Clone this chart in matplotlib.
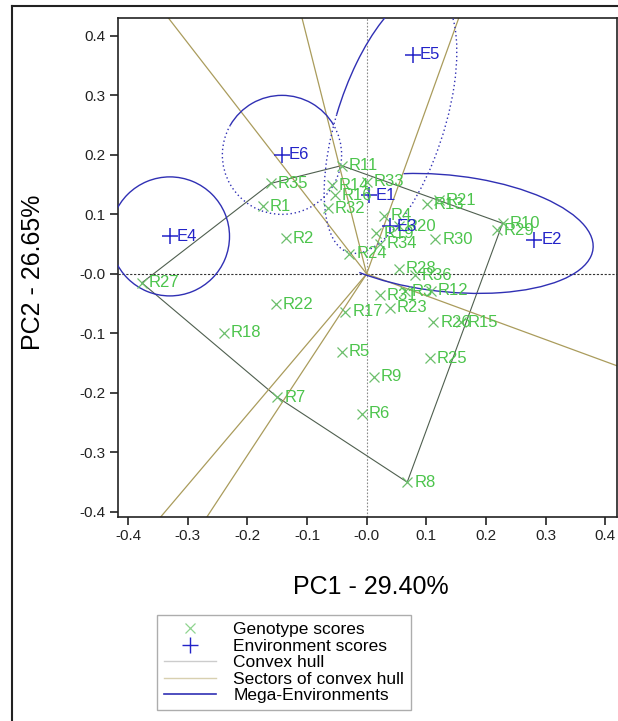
import numpy as np
import matplotlib
matplotlib.use('Agg')
import matplotlib.pyplot as plt
from matplotlib.patches import Arc
from matplotlib.lines import Line2D

plt.rcParams['font.family'] = ['Liberation Sans', 'DejaVu Sans']
plt.rcParams['axes.unicode_minus'] = False

# genotype scores (PC1, PC2)
gen_names = ['R1', 'R2', 'R3', 'R4', 'R5', 'R6', 'R7', 'R8', 'R9', 'R10',
             'R11', 'R12', 'R13', 'R14', 'R15', 'R16', 'R17', 'R18', 'R19', 'R20',
             'R21', 'R22', 'R23', 'R24', 'R25', 'R26', 'R27', 'R28', 'R29', 'R30',
             'R31', 'R32', 'R33', 'R34', 'R35', 'R36']
gen_x = [-0.174, -0.135, 0.064, 0.029, -0.042, -0.008, -0.150, 0.068, 0.012, 0.228,
         -0.042, 0.108, 0.101, -0.058, 0.158, -0.053, -0.036, -0.240, 0.016, 0.054,
         0.121, -0.152, 0.039, -0.029, 0.106, 0.112, -0.377, 0.054, 0.218, 0.115,
         0.022, -0.065, 0.000, 0.022, -0.161, 0.081]
gen_y = [0.114, 0.060, -0.029, 0.098, -0.131, -0.235, -0.207, -0.350, -0.173, 0.085,
         0.182, -0.028, 0.117, 0.149, -0.081, 0.132, -0.064, -0.099, 0.068, 0.080,
         0.124, -0.051, -0.057, 0.034, -0.142, -0.081, -0.015, 0.009, 0.073, 0.058,
         -0.036, 0.110, 0.155, 0.051, 0.152, -0.002]

# environment scores
env_names = ['E1', 'E2', 'E3', 'E4', 'E5', 'E6']
env_x = [0.004, 0.281, 0.039, -0.330, 0.078, -0.142]
env_y = [0.132, 0.057, 0.080, 0.063, 0.368, 0.200]

# vertices of the convex hull (genotypes)
hull_order = ['R27', 'R35', 'R11', 'R10', 'R8', 'R7']

# mega-environment ellipses: centre, width, height, angle, solid arc, dotted arc
me_cx = [-0.330, -0.142, 0.040, 0.135]
me_cy = [0.063, 0.200, 0.255, 0.068]
me_w = [0.20, 0.20, 0.46, 0.492]
me_h = [0.20, 0.20, 0.18, 0.196]
me_ang = [0, 0, 72, -6]
me_solid = [(0, 360), (30, 150), (0, 100), (-150, 132)]
me_dotted = [None, (150, 390), (100, 360), None]

green = '#4cc44c'
green_mk = '#6cbf6c'
blue = '#2323c8'
me_col = '#3030b4'
hull_col = '#4f5f4f'
sect_col = '#aa9c5c'

fig = plt.figure(figsize=(6.18, 7.21), dpi=100)
ax = fig.add_axes([118 / 618, 1 - 516.7 / 721, 498.5 / 618, 498.7 / 721])
ax.set_xlim(-0.417, 0.419)
ax.set_ylim(-0.408, 0.430)

ax.axhline(0, color='#333333', lw=0.8, ls=(0, (2, 1.5)), zorder=1)
ax.axvline(0, color='#8a8a8a', lw=0.8, ls=(0, (1.5, 1.5)), zorder=1)

gx = dict(zip(gen_names, gen_x))
gy = dict(zip(gen_names, gen_y))
hx = [gx[n] for n in hull_order] + [gx[hull_order[0]]]
hy = [gy[n] for n in hull_order] + [gy[hull_order[0]]]
ax.plot(hx, hy, color=hull_col, lw=0.8, zorder=2)

# sectors: rays from origin perpendicular to each hull edge
for i in range(len(hull_order)):
    p = np.array([hx[i], hy[i]])
    q = np.array([hx[i + 1], hy[i + 1]])
    d = q - p
    t = -np.dot(p, d) / np.dot(d, d)
    f = p + t * d
    f = f / np.linalg.norm(f) * 2.0
    ax.plot([0, f[0]], [0, f[1]], color=sect_col, lw=0.9, zorder=2)

for i in range(len(me_cx)):
    t1, t2 = me_solid[i]
    ax.add_patch(Arc((me_cx[i], me_cy[i]), me_w[i], me_h[i], angle=me_ang[i],
                     theta1=t1, theta2=t2, color=me_col, lw=1.0, zorder=3))
    if me_dotted[i] is not None:
        t1, t2 = me_dotted[i]
        ax.add_patch(Arc((me_cx[i], me_cy[i]), me_w[i], me_h[i], angle=me_ang[i],
                         theta1=t1, theta2=t2, color=me_col, lw=1.0,
                         ls=(0, (1, 2)), zorder=3))

ax.plot(gen_x, gen_y, ls='none', marker='x', ms=7, mew=0.9, color=green_mk, zorder=4)
for n, x, y in zip(gen_names, gen_x, gen_y):
    ax.annotate(n, (x, y), xytext=(5, 0), textcoords='offset points',
                va='center', ha='left', fontsize=12, color=green, zorder=5)

ax.plot(env_x, env_y, ls='none', marker='+', ms=11, mew=1.1, color=blue, zorder=4)
for n, x, y in zip(env_names, env_x, env_y):
    ax.annotate(n, (x, y), xytext=(5, 0), textcoords='offset points',
                va='center', ha='left', fontsize=12, color=blue, zorder=5)

ticks = np.round(np.arange(-0.4, 0.41, 0.1), 1)
ax.set_xticks(ticks)
ax.set_yticks(ticks)
ax.set_xticklabels(['%.1f' % v for v in ticks])
ax.set_yticklabels(['%.1f' % v for v in ticks])
ax.tick_params(direction='out', length=6, width=1.2, labelsize=11, pad=3,
               colors='#222222')
for s in ax.spines.values():
    s.set_linewidth(1.2)
    s.set_color('#222222')

fig.text(371 / 618, 1 - 587 / 721, 'PC1 - 29.40%', fontsize=18, ha='center', va='center')
fig.text(33 / 618, 1 - 272 / 721, 'PC2 - 26.65%', fontsize=18, ha='center', va='center',
         rotation=90)

handles = [Line2D([], [], ls='none', marker='x', ms=7, mew=0.9, color='#8fd48f'),
           Line2D([], [], ls='none', marker='+', ms=11, mew=1.0, color=blue),
           Line2D([], [], color='#cccccc', lw=1.0),
           Line2D([], [], color='#d8d0b0', lw=1.0),
           Line2D([], [], color=me_col, lw=1.2)]
labels = ['Genotype scores', 'Environment scores', 'Convex hull',
          'Sectors of convex hull', 'Mega-Environments']
fig.legend(handles, labels, loc='upper left', bbox_to_anchor=(157 / 618, 1 - 615 / 721),
           bbox_transform=fig.transFigure, fontsize=12.5, frameon=True, fancybox=False,
           edgecolor='#999999', labelspacing=0.08, handlelength=3.0, handletextpad=1.0,
           borderpad=0.4, borderaxespad=0)

# outer frame
fig.add_artist(Line2D([12 / 618, 1], [1 - 6 / 721, 1 - 6 / 721], transform=fig.transFigure,
                      color='#222222', lw=1.5))
fig.add_artist(Line2D([12 / 618, 12 / 618], [0, 1 - 6 / 721], transform=fig.transFigure,
                      color='#222222', lw=1.5))

fig.savefig('out.png', dpi=100)
